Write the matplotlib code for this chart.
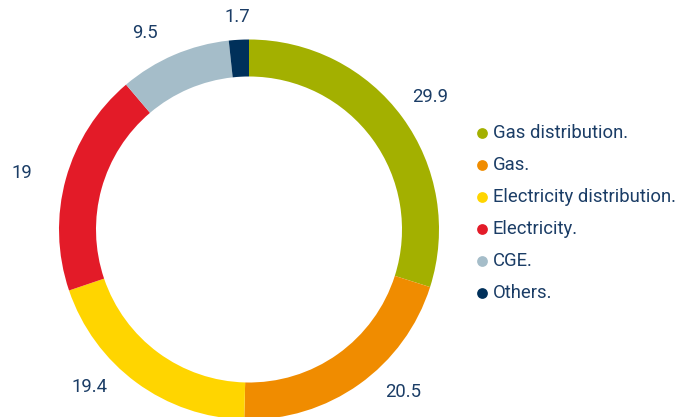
import numpy as np
import matplotlib
matplotlib.use("Agg")
import matplotlib.pyplot as plt

categories = ["Gas distribution.", "Gas.", "Electricity distribution.", "Electricity.", "CGE.", "Others."]
values = [29.9, 20.5, 19.4, 19, 9.5, 1.7]
value_labels = ["29.9", "20.5", "19.4", "19", "9.5", "1.7"]
colors = ["#a3b000", "#f08c00", "#ffd500", "#e31b28", "#a5bdc9", "#00305a"]

text_color = "#1b3d66"
font = ["Roboto", "DejaVu Sans"]
plt.rcParams["font.family"] = font

W, H = 687, 417
fig = plt.figure(figsize=(W / 100, H / 100), dpi=100)
ax = fig.add_axes([0, 0, 1, 1])

cx, cy = 249, H - 229.5
R = 190
ring = 37

wedges, _ = ax.pie(values, colors=colors, startangle=90, counterclock=False,
                   radius=R, center=(cx, cy), frame=True,
                   wedgeprops=dict(width=ring, linewidth=0))
ax.set_xlim(0, W)
ax.set_ylim(0, H)
ax.set_aspect("equal")
ax.axis("off")

# value labels: placed around each wedge's mid angle
label_r = [224, 224, 224, 234, 222, 213]
label_dtheta = [0, 8, -9, 1.5, 4.7, 0]
for w, lab, r, dt in zip(wedges, value_labels, label_r, label_dtheta):
    ang = np.deg2rad((w.theta1 + w.theta2) / 2 + dt)
    ax.text(cx + r * np.cos(ang), cy + r * np.sin(ang), lab,
            ha="center", va="center", fontsize=13.3, color=text_color)

# legend
lx, ly0, dy = 482, H - 133, 32
for i, (c, name) in enumerate(zip(colors, categories)):
    y = ly0 - i * dy
    ax.scatter([lx], [y], s=60, color=c, linewidths=0)
    ax.text(lx + 11, y, name, ha="left", va="center", fontsize=13.3,
            color=text_color)

fig.savefig("out.png", dpi=100)
